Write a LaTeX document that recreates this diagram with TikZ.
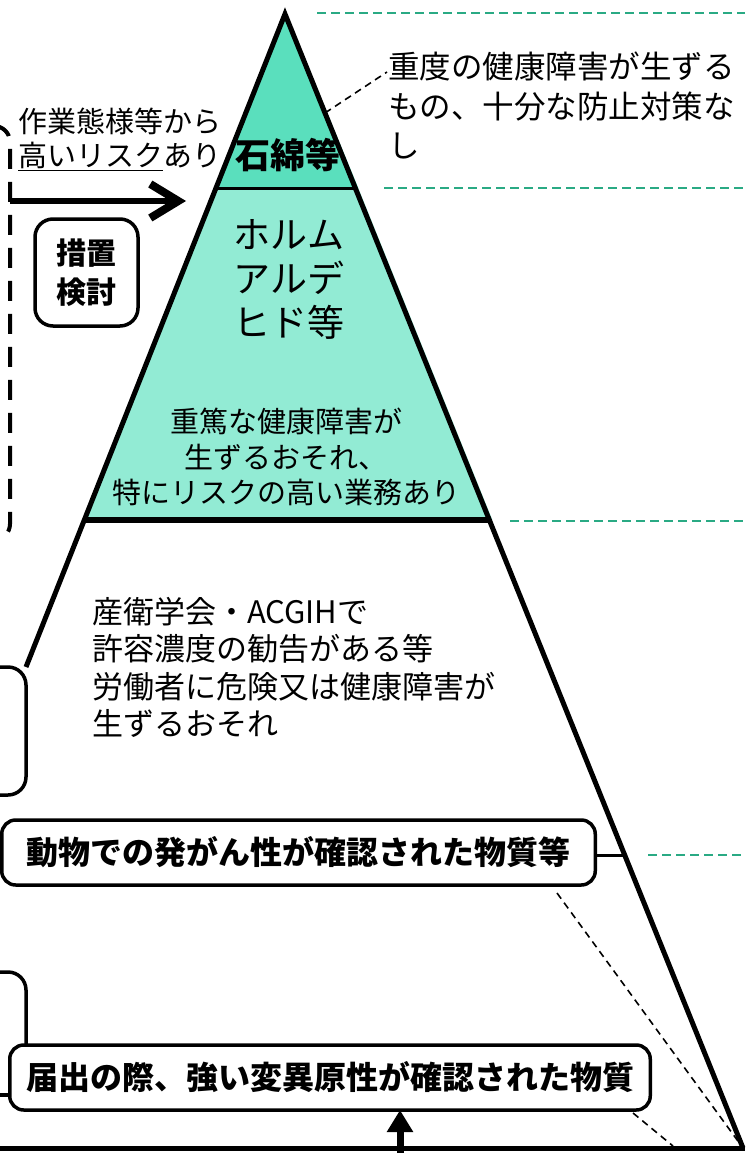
\documentclass[tikz,border=0pt]{standalone}
\usepackage{fontspec}
\setmainfont{Noto Sans CJK JP}
\usetikzlibrary{arrows.meta}
\definecolor{tealdark}{HTML}{5ADFBD}
\definecolor{teallight}{HTML}{92EBD4}
\definecolor{guide}{HTML}{2AAA84}
\begin{document}
\begin{tikzpicture}[x=1pt,y=-1pt,
  fs/.style args={#1/#2}{font={\fontsize{#1}{#2}\selectfont}},
  fsb/.style args={#1/#2}{font={\bfseries\fontsize{#1}{#2}\selectfont}},
  txt/.style={inner sep=0pt, outer sep=0pt},
  guideline/.style={draw=guide, line width=1.5pt, dash pattern=on 9pt off 5pt},
  leader/.style={draw=black, line width=1.6pt, dash pattern=on 7pt off 5pt},
  edgeline/.style={line width=5pt, line join=miter},
  boxed/.style={draw, line width=3.5pt, rounded corners=14pt, fill=white, inner sep=0pt, outer sep=0pt},
]
\useasboundingbox (0,0) rectangle (745,1153);

% pyramid geometry
\coordinate (apex) at (285,14);
\coordinate (br) at (743,1148);
\coordinate (l1) at (216,188);
\coordinate (r1) at (355.3,188);
\coordinate (l2) at (85,520);
\coordinate (r2) at (489.4,520);
\coordinate (lend) at (26,667);
\coordinate (e855) at (624.7,855);
\coordinate (e113) at (325,113);

% fills (slightly offset to the right, as in the reference)
\fill[teallight] (l1) -- (358.3,188) -- (492.4,520) -- (l2) -- cycle;
\fill[tealdark] (286.5,14) -- (358.3,188) -- (l1) -- cycle;

% section dividers
\draw[line width=3pt] (l1) -- (r1);
\draw[line width=6pt] (l2) -- (r2);

% pyramid edges
\draw[edgeline] (lend) -- (apex) -- (br);

% green guide lines
\coordinate (g1a) at (317,13);  \coordinate (g1b) at (745,13);
\coordinate (g2a) at (384,188); \coordinate (g2b) at (745,188);
\coordinate (g3a) at (510,521); \coordinate (g3b) at (745,521);
\coordinate (g4a) at (648,855); \coordinate (g4b) at (745,855);
\draw[guideline] (g1a) -- (g1b);
\draw[guideline] (g2a) -- (g2b);
\draw[guideline] (g3a) -- (g3b);
\draw[guideline] (g4a) -- (g4b);

% top right text with leader
\node[txt, anchor=west, align=left, fs=31.5/39.5] (severe) at (388,105.5)
  {重度の健康障害が生ずる\\もの、十分な防止対策な\\し};
\coordinate (leadEnd) at (387,72);
\draw[leader] (e113) -- (leadEnd);

% left dashed bracket and arrow
\draw[line width=4pt, dash pattern=on 20pt off 13pt, rounded corners=16pt]
  (-40,126) -- (10,126) -- (10,540) -- (-40,540);
\node[txt, anchor=west, align=left, fs=29/34] (risk) at (18,139)
  {作業態様等から\\\underline{高いリスク}あり};
\coordinate (arrS) at (10,201);
\coordinate (arrE) at (186,201);
\draw[line width=6pt, -{Straight Barb[length=28pt,width=34pt,line width=8pt]}] (arrS) -- (arrE);

\node[boxed, rounded corners=18pt, minimum width=103pt, minimum height=107pt,
  align=center, fsb=30/39.5] (measure) at (86.5,272.5) {措置\\検討};

% pyramid texts
\node[txt, fsb=35/40] (asb) at (288,155) {石綿等};
\node[txt, align=center, fs=37/44] (form) at (289,279) {ホルム\\アルデ\\ヒド等};
\node[txt, align=center, fs=29/35.5] (grave) at (286,457)
  {重篤な健康障害が\\生ずるおそれ、\\特にリスクの高い業務あり};
\node[txt, anchor=west, align=left, fs=31/37.3] (lower) at (92,667.5)
  {産衛学会・ACGIHで\\許容濃度の勧告がある等\\労働者に危険又は健康障害が\\生ずるおそれ};

% left solid brackets
\draw[line width=3.5pt, rounded corners=18pt] (-30,667) -- (26,667) -- (26,795) -- (-30,795);
\draw[line width=3.5pt, rounded corners=18pt] (-30,972) -- (26,972) -- (26,1050);

% dashed guides to the corner
\coordinate (d1s) at (557,893);
\coordinate (d2s) at (633,1113);
\coordinate (d2e) at (673,1146);
\draw[leader] (d1s) -- (br);
\draw[leader] (d2s) -- (d2e);

% boxes
\node[boxed, minimum width=593.5pt, minimum height=65pt, fsb=32/38] (animal) at (298.5,852.5)
  {動物での発がん性が確認された物質等};
\draw[line width=3pt] (animal.east |- e855) -- (e855);

\node[boxed, minimum width=640.5pt, minimum height=65pt, fsb=32/38] (notif) at (330,1077.5)
  {届出の際、強い変異原性が確認された物質};
\coordinate (stub) at (-5,1095);
\draw[line width=3.5pt] (stub) -- (stub -| notif.west);

% bottom line and upward arrow
\coordinate (bl) at (0,1148);
\coordinate (brr) at (745,1148);
\draw[line width=5pt] (bl) -- (brr);
\coordinate (upS) at (400,1153);
\draw[line width=7pt, -{Triangle[length=22pt,width=25pt]}] (upS) -- (upS |- notif.south);
\end{tikzpicture}
\end{document}
